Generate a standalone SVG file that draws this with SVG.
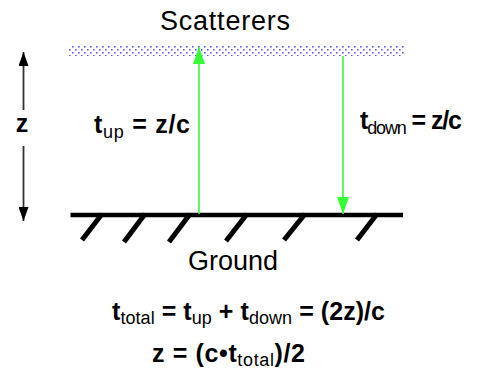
<svg xmlns="http://www.w3.org/2000/svg" width="500" height="377" viewBox="0 0 500 377">
<style>
text{font-family:"Liberation Sans",Arial,sans-serif;fill:#000}
.lbl{font-size:27px}
.m{font-size:25px;font-weight:bold}
.s{font-size:18px;font-weight:normal}
.green{stroke:#33ff33;stroke-width:1.6;fill:none}
.dim{stroke:#333;stroke-width:1.8;fill:none}
.hatch{stroke:#000;stroke-width:5;fill:none}
</style>
<defs>
<pattern id="dots" x="69" y="46" width="6" height="6" patternUnits="userSpaceOnUse">
<rect x="3" y="0" width="1.6" height="1.6" fill="#5a5aff"/>
<rect x="0" y="3" width="1.6" height="1.6" fill="#5a5aff"/>
</pattern>
<marker id="gh" markerUnits="userSpaceOnUse" viewBox="0 0 17 12" markerWidth="17" markerHeight="12" refX="17" refY="6" orient="auto">
<path d="M0,0 L17,6 L0,12 z" fill="#33ff33"/>
</marker>
<marker id="kh" markerUnits="userSpaceOnUse" viewBox="0 0 14 10" markerWidth="14" markerHeight="10" refX="14" refY="5" orient="auto">
<path d="M0,0 L14,5 L0,10 z" fill="#000"/>
</marker>
</defs>
<rect width="500" height="377" fill="#fff"/>
<g id="scatterers">
<rect x="69" y="46" width="336" height="10" fill="url(#dots)"/>
<text class="lbl" x="160" y="30" textLength="130" lengthAdjust="spacing">Scatterers</text>
</g>
<g id="ground">
<line x1="70.5" y1="215" x2="403" y2="215" stroke="#000" stroke-width="4.5"/>
<line class="hatch" x1="102" y1="214" x2="82" y2="240"/>
<line class="hatch" x1="145" y1="214" x2="124" y2="242"/>
<line class="hatch" x1="190" y1="214" x2="169" y2="242"/>
<line class="hatch" x1="247" y1="214" x2="226" y2="241"/>
<line class="hatch" x1="305" y1="214" x2="284" y2="240"/>
<line class="hatch" x1="377" y1="214" x2="357" y2="240"/>
<text class="lbl" x="188" y="270" font-size="26" textLength="90" lengthAdjust="spacing">Ground</text>
</g>
<g id="height">
<line class="dim" x1="23.5" y1="110" x2="23.5" y2="52" marker-end="url(#kh)"/>
<line class="dim" x1="23.5" y1="146" x2="23.5" y2="221" marker-end="url(#kh)"/>
<text class="m" x="22" y="132" text-anchor="middle" font-size="24">z</text>
</g>
<g id="connectors">
<line class="green" x1="199" y1="214" x2="199" y2="47" marker-end="url(#gh)"/>
<line class="green" x1="343" y1="56" x2="343" y2="214" marker-end="url(#gh)"/>
</g>
<g id="labels">
<text class="m" x="94" y="133" textLength="96" lengthAdjust="spacing">t<tspan class="s" dy="5">up</tspan><tspan dy="-5"> = z/c</tspan></text>
<text class="m" x="360" y="129" textLength="102" lengthAdjust="spacing">t<tspan class="s" dy="5">down</tspan><tspan dy="-5"> = z/c</tspan></text>
<text class="m" x="112" y="320" textLength="273" lengthAdjust="spacing">t<tspan class="s" dy="4">total</tspan><tspan dy="-4"> = t</tspan><tspan class="s" dy="4">up</tspan><tspan dy="-4"> + t</tspan><tspan class="s" dy="4">down</tspan><tspan dy="-4"> = (2z)/c</tspan></text>
<text class="m" x="152" y="362" textLength="153" lengthAdjust="spacing">z = (c•t<tspan class="s" dy="4">total</tspan><tspan dy="-4">)/2</tspan></text>
</g>
</svg>
